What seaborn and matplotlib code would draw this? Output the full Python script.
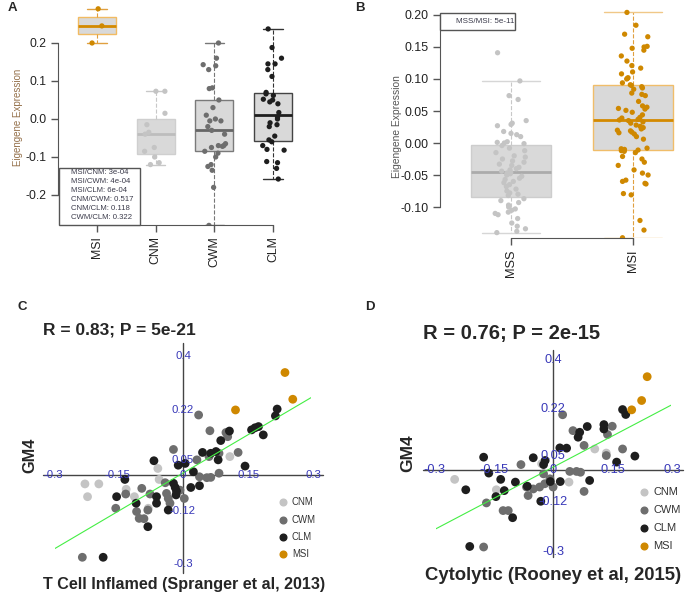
import numpy as np
import pandas as pd
import matplotlib
matplotlib.use("Agg")
import matplotlib.pyplot as plt
from matplotlib.patches import Rectangle
from matplotlib.lines import Line2D
import seaborn as sns

# ---------------- data ----------------
# Panel A: eigengene expression per subtype
a_order = ["MSI", "CNM", "CWM", "CLM"]
a_msi = [0.29, 0.245, 0.2]
a_cnm = [0.073, 0.073, 0.015, -0.015, -0.035, -0.04, -0.075, -0.085, -0.1, -0.115, -0.12]
a_cwm = [0.2, 0.16, 0.143, 0.14, 0.13, 0.082, 0.08, 0.05, 0.03, 0.01, 0.0, -0.005, -0.005,
         -0.02, -0.03, -0.04, -0.065, -0.07, -0.07, -0.072, -0.075, -0.085, -0.09, -0.1,
         -0.12, -0.125, -0.135, -0.18, -0.28]
a_clm = [0.237, 0.188, 0.16, 0.145, 0.145, 0.13, 0.112, 0.07, 0.066, 0.062, 0.052, 0.05,
         0.045, 0.04, 0.017, 0.005, 0.0, -0.01, -0.015, -0.02, -0.045, -0.055, -0.06, -0.07,
         -0.08, -0.082, -0.112, -0.115, -0.13, -0.158]
a_pvals = ["MSI/CNM: 3e-04", "MSI/CWM: 4e-04", "MSI/CLM: 6e-04",
           "CNM/CWM: 0.517", "CNM/CLM: 0.118", "CWM/CLM: 0.322"]

# Panel B: MSS vs MSI
b_order = ["MSS", "MSI"]
b_mss = [0.141, 0.097, 0.074, 0.068, 0.035, 0.031, 0.029, 0.027, 0.018, 0.015,
         0.013, 0.010, 0.002, 0.001, 0.000, -0.001, -0.004, -0.008, -0.012, -0.015,
         -0.020, -0.022, -0.025, -0.028, -0.030, -0.033, -0.035, -0.038, -0.040, -0.042,
         -0.044, -0.046, -0.047, -0.048, -0.050, -0.052, -0.055, -0.057, -0.060, -0.062,
         -0.065, -0.068, -0.072, -0.075, -0.078, -0.080, -0.082, -0.087, -0.090, -0.093,
         -0.097, -0.100, -0.103, -0.105, -0.108, -0.110, -0.112, -0.118, -0.125, -0.130,
         -0.134, -0.138, -0.140]
b_msi = [0.204, 0.184, 0.170, 0.166, 0.151, 0.150, 0.148, 0.145, 0.136, 0.128,
         0.121, 0.117, 0.111, 0.108, 0.102, 0.101, 0.100, 0.094, 0.091, 0.090,
         0.088, 0.086, 0.084, 0.078, 0.076, 0.074, 0.065, 0.058, 0.056, 0.054,
         0.053, 0.051, 0.048, 0.044, 0.040, 0.039, 0.037, 0.036, 0.035, 0.033,
         0.031, 0.028, 0.026, 0.024, 0.022, 0.020, 0.019, 0.017, 0.016, 0.014,
         0.010, 0.006, -0.008, -0.009, -0.010, -0.011, -0.012, -0.013, -0.015, -0.021,
         -0.025, -0.030, -0.035, -0.042, -0.047, -0.050, -0.058, -0.060, -0.063, -0.064,
         -0.079, -0.081, -0.121, -0.136, -0.148]
b_pval = "MSS/MSI: 5e-11"

# Panel C: GM4 vs T cell inflamed score
c_cnm_x = [-0.226, -0.194, -0.220, -0.131, -0.112, -0.058, -0.055, 0.108, -0.080]
c_cnm_y = [-0.030, -0.030, -0.073, -0.048, -0.073, 0.022, -0.015, 0.062, -0.112]
c_cwm_x = [-0.232, 0.036, 0.062, 0.099, 0.103, 0.127, -0.022, 0.032, 0.060, 0.083, 0.038,
           0.055, 0.064, -0.095, -0.132, -0.155, -0.107, -0.101, -0.090, -0.081, -0.076,
           -0.041, -0.038, -0.034, -0.030, 0.003, -0.007, 0.083]
c_cwm_y = [-0.277, 0.202, 0.149, 0.143, 0.129, 0.076, 0.086, 0.051, 0.062, 0.006, -0.006,
           -0.009, -0.008, -0.045, -0.064, -0.112, -0.123, -0.146, -0.147, -0.118, -0.064,
           -0.026, -0.062, -0.079, -0.095, -0.079, -0.051, 0.073]
c_clm_x = [-0.184, -0.134, -0.153, -0.108, -0.081, -0.067, -0.061, -0.034, -0.061, -0.022,
           -0.018, -0.015, -0.016, -0.011, 0.005, 0.024, 0.018, 0.038, 0.045, 0.064, 0.076,
           0.081, 0.087, 0.107, 0.143, 0.158, 0.166, 0.174, 0.185, 0.213, 0.217]
c_clm_y = [-0.277, -0.015, -0.073, -0.095, -0.174, 0.048, -0.073, -0.118, -0.095, -0.028,
           -0.042, -0.054, -0.067, 0.033, 0.039, 0.011, -0.042, -0.036, 0.076, 0.073, 0.079,
           0.051, 0.116, 0.148, 0.030, 0.152, 0.159, 0.163, 0.135, 0.199, 0.222]
c_msi_x = [0.235, 0.253, 0.121]
c_msi_y = [0.345, 0.255, 0.219]

# Panel D: GM4 vs cytolytic score
d_cnm_x = [-0.248, -0.143, 0.105, 0.134, 0.040, -0.029]
d_cnm_y = [-0.036, -0.074, 0.075, 0.060, -0.046, 0.021]
d_cwm_x = [-0.175, 0.024, 0.050, 0.149, 0.137, 0.078, 0.175, 0.134, -0.081, -0.168, -0.126,
           -0.113, -0.063, -0.067, -0.050, -0.034, -0.021, -0.008, 0.042, 0.059, 0.069,
           0.078, 0.000, -0.024]
d_cwm_y = [-0.283, 0.200, 0.142, 0.158, 0.128, 0.088, 0.075, 0.051, 0.018, -0.122, -0.150,
           -0.150, -0.095, -0.064, -0.071, -0.064, -0.052, -0.034, -0.007, -0.007, -0.010,
           -0.080, -0.064, -0.016]
d_clm_x = [-0.210, -0.220, -0.175, -0.162, -0.132, -0.123, -0.144, -0.102, -0.095, -0.065,
           -0.050, -0.031, -0.024, -0.020, -0.007, 0.018, 0.017, 0.034, 0.063, 0.086, 0.067,
           0.092, 0.128, 0.128, 0.175, 0.183, 0.160, 0.206]
d_clm_y = [-0.281, -0.074, 0.045, -0.013, -0.036, -0.077, -0.099, -0.176, -0.046, -0.061,
           0.043, -0.116, 0.018, 0.033, -0.044, -0.044, 0.079, 0.078, 0.118, 0.157, 0.136,
           -0.040, 0.164, 0.148, 0.219, 0.201, 0.027, 0.049]
d_msi_x = [0.237, 0.223, 0.198]
d_msi_y = [0.339, 0.252, 0.218]

scat_ticks_x = [-0.3, -0.15, 0, 0.15, 0.3]
scat_ticks_y = [0.4, 0.22, 0.05, -0.12, -0.3]
legend_groups = ["CNM", "CWM", "CLM", "MSI"]

# ---------------- style ----------------
sns.set_style("ticks")
plt.rcParams["font.family"] = ["Liberation Sans", "DejaVu Sans"]

ORANGE = "#cf8800"
pt_colors = {"CNM": "#c4c4c4", "CWM": "#6e6e6e", "CLM": "#1e1e1e", "MSI": ORANGE, "MSS": "#c4c4c4"}
BOXFILL = "#d9d9d9"
TICKBLUE = "#3838b8"

W, H = 685, 596
fig = plt.figure(figsize=(W / 100, H / 100), dpi=100)


def fx(px):
    return px / W


def fy(py):
    return 1 - py / H


def add_ax(l, t, r, b):
    return fig.add_axes([fx(l), fy(b), (r - l) / W, (b - t) / H])


def long_df(groups):
    return pd.DataFrame([(g, v) for g, vals in groups for v in vals], columns=["group", "value"])


def draw_box(ax, df, group, order, edge, median, whisk, cap, capw, lw=1.0):
    sns.boxplot(data=df[df.group == group], x="group", y="value", order=order,
                width=0.65, color=BOXFILL, saturation=1, linecolor=edge, linewidth=lw,
                showfliers=False,
                boxprops=dict(facecolor=BOXFILL, edgecolor=edge),
                whiskerprops=dict(color=whisk, linestyle="--", linewidth=0.8),
                capprops=dict(color=cap, linewidth=1.0),
                medianprops=dict(color=median, linewidth=2.0),
                capwidths=capw, ax=ax)


# ---------------- panel A ----------------
a_df = long_df([("MSI", a_msi), ("CNM", a_cnm), ("CWM", a_cwm), ("CLM", a_clm)])
axA = add_ax(58, 5, 312, 225)
draw_box(axA, a_df, "MSI", a_order, "#f2bb62", "#d48a00", "#e0a040", "#e0a040", 0.33)
draw_box(axA, a_df, "CNM", a_order, "#cfcfcf", "#bdbdbd", "#c8c8c8", "#c8c8c8", 0.33)
draw_box(axA, a_df, "CWM", a_order, "#7a7a7a", "#666666", "#777777", "#777777", 0.33)
draw_box(axA, a_df, "CLM", a_order, "#444444", "#1e1e1e", "#333333", "#333333", 0.33)
np.random.seed(3)
sns.stripplot(data=a_df, x="group", y="value", order=a_order, hue="group",
              palette=pt_colors, jitter=0.2, size=3.8, linewidth=0, legend=False,
              zorder=3, ax=axA)
axA.set_xlim(-0.664, 3.664)
axA.set_ylim(-0.279, 0.300)
axA.set_yticks([-0.2, -0.1, 0.0, 0.1, 0.2])
axA.set_yticklabels(["-0.2", "-0.1", "0.0", "0.1", "0.2"], fontsize=8.8)
axA.set_xticks(range(4))
axA.set_xticklabels(a_order, rotation=90, fontsize=8.8)
axA.set_xlabel("")
axA.set_ylabel("")
sns.despine(ax=axA)
axA.spines["left"].set_bounds(-0.2, 0.2)
axA.spines["bottom"].set_bounds(0, 3)
for s in ["left", "bottom"]:
    axA.spines[s].set_color("#555555")
axA.tick_params(length=5, width=1, color="#555555", pad=3, labelcolor="#222222")
fig.text(fx(18), fy(117), "Eigengene Expression", rotation=90, ha="center", va="center",
         fontsize=7, color="#94704a")
fig.add_artist(Rectangle((fx(59), fy(225)), 81 / W, 57 / H, fill=True, fc="white",
                         ec="#555555", lw=1, transform=fig.transFigure))
for i, t in enumerate(a_pvals):
    fig.text(fx(71), fy(173 + i * 8.9), t, ha="left", va="center", fontsize=5.6,
             color="#3a3a4a")

# ---------------- panel B ----------------
b_df = long_df([("MSS", b_mss), ("MSI", b_msi)])
axB = add_ax(440, 5, 685, 238)
draw_box(axB, b_df, "MSS", b_order, "#cdcdcd", "#ababab", "#c8c8c8", "#d6d6d6", 0.48)
draw_box(axB, b_df, "MSI", b_order, "#f0bd6a", "#d48a00", "#e0a040", "#f0c888", 0.48)
np.random.seed(7)
sns.stripplot(data=b_df, x="group", y="value", order=b_order, hue="group",
              palette=pt_colors, jitter=0.13, size=3.8, linewidth=0, legend=False,
              zorder=3, ax=axB)
axB.set_xlim(-0.582, 1.426)
axB.set_ylim(-0.1484, 0.2156)
axB.set_yticks([-0.10, -0.05, 0.0, 0.05, 0.10, 0.15, 0.20])
axB.set_yticklabels([f"{v:.2f}" for v in [-0.10, -0.05, 0.0, 0.05, 0.10, 0.15, 0.20]],
                    fontsize=8.9)
axB.set_xticks(range(2))
axB.set_xticklabels(b_order, rotation=90, fontsize=9.2)
axB.set_xlabel("")
axB.set_ylabel("")
sns.despine(ax=axB)
axB.spines["left"].set_bounds(-0.10, 0.20)
axB.spines["bottom"].set_bounds(0, 1)
for s in ["left", "bottom"]:
    axB.spines[s].set_color("#555555")
axB.tick_params(length=5, width=1, color="#555555", pad=3, labelcolor="#222222")
fig.text(fx(397), fy(127), "Eigengene Expression", rotation=90, ha="center", va="center",
         fontsize=7.4, color="#555555")
fig.add_artist(Rectangle((fx(440), fy(30)), 75 / W, 17 / H, fill=True, fc="white",
                         ec="#555555", lw=1, transform=fig.transFigure))
fig.text(fx(485), fy(21.5), b_pval, ha="center", va="center", fontsize=5.8, color="#3a3a4a")


# ---------------- panels C / D ----------------
def scatter_df(parts):
    rows = []
    for g, xs, ys in parts:
        rows += [(g, x, y) for x, y in zip(xs, ys)]
    return pd.DataFrame(rows, columns=["group", "x", "y"])


def scatter_panel(ax, df, xlim, ylim, hline, vline, tick_fs):
    sns.scatterplot(data=df, x="x", y="y", hue="group", palette=pt_colors, s=40,
                    linewidth=0, legend=False, zorder=2, ax=ax)
    ax.set_xlim(xlim)
    ax.set_ylim(ylim)
    sns.regplot(data=df, x="x", y="y", scatter=False, ci=None, truncate=False,
                color="#44ee44", line_kws=dict(lw=0.8, zorder=3), ax=ax)
    ax.set_xlim(xlim)
    ax.set_ylim(ylim)
    ax.axis("off")
    ax.plot(hline, [0, 0], color="#444444", lw=1, clip_on=False, zorder=1)
    ax.plot([0, 0], vline, color="#444444", lw=1, clip_on=False, zorder=1)
    for v in scat_ticks_x:
        lab = "0" if v == 0 else f"{v:g}"
        ax.text(v, 0, lab, ha="center", va="center", fontsize=tick_fs, color=TICKBLUE, zorder=4)
    for v in scat_ticks_y:
        ax.text(0, v, f"{v:g}", ha="center", va="center", fontsize=tick_fs, color=TICKBLUE, zorder=4)


c_df = scatter_df([("CNM", c_cnm_x, c_cnm_y), ("CWM", c_cwm_x, c_cwm_y),
                   ("CLM", c_clm_x, c_clm_y), ("MSI", c_msi_x, c_msi_y)])
axC = add_ax(55, 340, 311, 580)
scatter_panel(axC, c_df, (-0.295, 0.295), (-0.3535, 0.4545), [-0.323, 0.323], [-0.33, 0.444], 8.2)

d_df = scatter_df([("CNM", d_cnm_x, d_cnm_y), ("CWM", d_cwm_x, d_cwm_y),
                   ("CLM", d_clm_x, d_clm_y), ("MSI", d_msi_x, d_msi_y)])
axD = add_ax(436, 340, 671, 570)
scatter_panel(axD, d_df, (-0.295, 0.297), (-0.367, 0.473), [-0.327, 0.328], [-0.319, 0.436], 9.2)

# titles, labels and legends for C / D
fig.text(fx(43), fy(330), "R = 0.83; P = 5e-21", fontsize=12.5, fontweight="bold",
         ha="left", va="center")
fig.text(fx(43), fy(585), "T Cell Inflamed (Spranger et al, 2013)", fontsize=11.6,
         fontweight="bold", ha="left", va="center")
fig.text(fx(30), fy(455), "GM4", fontsize=11.7, fontweight="bold", rotation=90,
         ha="center", va="center")
fig.text(fx(423), fy(333), "R = 0.76; P = 2e-15", fontsize=14.5, fontweight="bold",
         ha="left", va="center")
fig.text(fx(425), fy(575), "Cytolytic (Rooney et al, 2015)", fontsize=13.3,
         fontweight="bold", ha="left", va="center")
fig.text(fx(408), fy(453), "GM4", fontsize=12.5, fontweight="bold", rotation=90,
         ha="center", va="center")

for mx, tx, ys, fs in [(283, 292, [502, 520, 537, 554], 6.9), (644, 653, [492, 510, 528, 546], 7.9)]:
    for g, yy in zip(legend_groups, ys):
        fig.add_artist(Line2D([fx(mx)], [fy(yy)], marker="o", markersize=4.8, color=pt_colors[g],
                              linestyle="none", transform=fig.transFigure))
        fig.text(fx(tx), fy(yy), g, fontsize=fs, color="#333333", ha="left", va="center")

# panel letters
for letter, px, py in [("A", 8, 8), ("B", 355, 8), ("C", 17, 307), ("D", 365, 307)]:
    fig.text(fx(px), fy(py), letter, fontsize=9.5, fontweight="bold", ha="left", va="center")

fig.savefig("out.png", dpi=100)
